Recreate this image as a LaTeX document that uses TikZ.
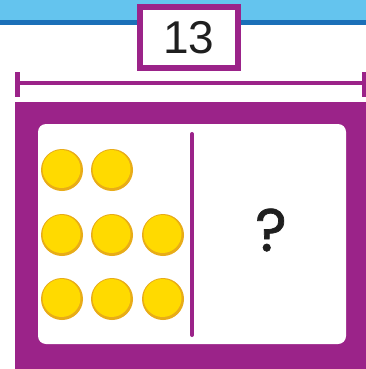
\documentclass[tikz,border=0pt]{standalone}
\usepackage{fontspec}
\setmainfont{Liberation Sans}
\newfontfamily\popfont{Poppins}[FakeBold=1.2]
\definecolor{vio}{RGB}{155,35,137}
\definecolor{cyanlt}{RGB}{100,196,238}
\definecolor{cyandk}{RGB}{27,112,184}
\definecolor{gold}{RGB}{255,218,0}
\definecolor{goldrim}{RGB}{232,172,24}
\begin{document}
\begin{tikzpicture}[x=1pt,y=-1pt,
  counter/.style={circle,minimum size=42pt,inner sep=0pt,fill=goldrim},
  counterface/.style={circle,minimum size=38pt,inner sep=0pt,fill=gold}]
\useasboundingbox (0,0) rectangle (366,369);
\fill[cyanlt] (0,0) rectangle (366,21);
\fill[cyandk] (0,20) rectangle (366,25);
% measure bar
\fill[vio] (15,81) rectangle (366,85);
\fill[vio] (15,72) rectangle (20,97);
\fill[vio] (362,72) rectangle (366,97);
% total box
\node[draw=vio,line width=6pt,fill=white,minimum width=98pt,minimum height=61pt,inner sep=0pt,
  font=\fontsize{46}{46}\selectfont,text=black!88] (total) at (189,37.5) {13};
% big frame
\fill[vio] (15,102) rectangle (366,369);
\node[fill=white,rounded corners=8pt,minimum width=308pt,minimum height=220pt,inner sep=0pt] (board) at (192,234) {};
\draw[vio,line width=4pt,line cap=round] (192,134) -- (192,335);
% counters
\foreach \cx/\cy/\n in {62/170/a,112/170/b,62/235/c,112/235/d,163/235/e,62/299/f,112/299/g,163/299/h}{
  \node[counter] (c\n) at (\cx,\cy) {};
  \node[counterface] at (\cx-0.5,\cy-1) {};
}
\node[font=\popfont\fontsize{60}{60}\selectfont,text=black!88] (q) at (271,230) {?};
\end{tikzpicture}
\end{document}
